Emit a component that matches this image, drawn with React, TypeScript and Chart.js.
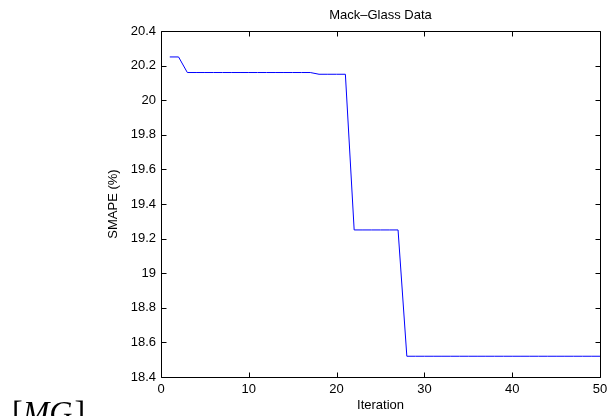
import React, { useEffect, useRef } from "react";
import { Chart, registerables } from "chart.js";

Chart.register(...registerables);

// ---- data ----
const iterations = [
  1, 2, 3, 4, 5, 6, 7, 8, 9, 10,
  11, 12, 13, 14, 15, 16, 17, 18, 19, 20,
  21, 22, 23, 24, 25, 26, 27, 28, 29, 30,
  31, 32, 33, 34, 35, 36, 37, 38, 39, 40,
  41, 42, 43, 44, 45, 46, 47, 48, 49, 50,
];
const smape = [
  20.25, 20.25, 20.16, 20.16, 20.16, 20.16, 20.16, 20.16, 20.16, 20.16,
  20.16, 20.16, 20.16, 20.16, 20.16, 20.16, 20.16, 20.15, 20.15, 20.15,
  20.15, 19.25, 19.25, 19.25, 19.25, 19.25, 19.25, 18.52, 18.52, 18.52,
  18.52, 18.52, 18.52, 18.52, 18.52, 18.52, 18.52, 18.52, 18.52, 18.52,
  18.52, 18.52, 18.52, 18.52, 18.52, 18.52, 18.52, 18.52, 18.52, 18.52,
];
const xTicks = [0, 10, 20, 30, 40, 50];
const yTicks = [18.4, 18.6, 18.8, 19, 19.2, 19.4, 19.6, 19.8, 20, 20.2, 20.4];
const titleText = "Mack\u2013Glass Data";
const xLabel = "Iteration";
const yLabel = "SMAPE (%)";
const cornerOpen = "[";
const cornerItalic = "MG";
const cornerClose = "]";

const SANS = "'Liberation Sans', Arial, Helvetica, sans-serif";
const SERIF = "'Liberation Serif', 'Times New Roman', serif";

const boxPlugin = {
  id: "matlabBox",
  afterDatasetsDraw(chart: any) {
    const { ctx, chartArea } = chart;
    const xs = chart.scales.x;
    const ys = chart.scales.y;
    const L = Math.round(chartArea.left) + 0.5;
    const R = Math.round(chartArea.right) + 0.5;
    const T = Math.round(chartArea.top) + 0.5;
    const B = Math.round(chartArea.bottom) + 0.5;
    const tl = 5;
    ctx.save();
    ctx.strokeStyle = "#000";
    ctx.lineWidth = 1;
    ctx.beginPath();
    ctx.rect(L, T, R - L, B - T);
    for (const v of xTicks) {
      const px = Math.round(xs.getPixelForValue(v)) + 0.5;
      ctx.moveTo(px, B);
      ctx.lineTo(px, B - tl);
      ctx.moveTo(px, T);
      ctx.lineTo(px, T + tl);
    }
    for (const v of yTicks) {
      const py = Math.round(ys.getPixelForValue(v)) + 0.5;
      ctx.moveTo(L, py);
      ctx.lineTo(L + tl, py);
      ctx.moveTo(R, py);
      ctx.lineTo(R - tl, py);
    }
    ctx.stroke();

    // title
    ctx.fillStyle = "#000";
    ctx.font = `13px ${SANS}`;
    ctx.textAlign = "center";
    ctx.textBaseline = "middle";
    ctx.fillText(titleText, (chartArea.left + chartArea.right) / 2, 15);

    // corner label [MG]
    ctx.textAlign = "left";
    ctx.textBaseline = "alphabetic";
    let x = 12;
    const base = 423;
    ctx.font = `32px ${SERIF}`;
    ctx.fillText(cornerOpen, x, base);
    x += ctx.measureText(cornerOpen).width;
    ctx.font = `italic 32px ${SERIF}`;
    ctx.fillText(cornerItalic, x, base);
    x += ctx.measureText(cornerItalic).width + 2;
    ctx.font = `32px ${SERIF}`;
    ctx.fillText(cornerClose, x, base);
    ctx.restore();
  },
};

export default function App() {
  const ref = useRef<HTMLCanvasElement | null>(null);

  useEffect(() => {
    if (!ref.current) return;
    const points = iterations.map((it, i) => ({ x: it, y: smape[i] }));
    const chart = new Chart(ref.current, {
      type: "line",
      data: {
        datasets: [
          {
            data: points,
            borderColor: "#0000ff",
            borderWidth: 1,
            pointRadius: 0,
            tension: 0,
            fill: false,
          },
        ],
      },
      options: {
        animation: false,
        responsive: false,
        maintainAspectRatio: false,
        layout: { padding: { left: 0, right: 8, top: 31, bottom: 0 } },
        font: { family: SANS, size: 13 },
        plugins: {
          legend: { display: false },
          tooltip: { enabled: false },
          title: { display: false },
        },
        scales: {
          x: {
            type: "linear",
            min: 0,
            max: 50,
            grid: { display: false, drawTicks: false },
            border: { display: false },
            afterBuildTicks: (s: any) => {
              s.ticks = xTicks.map((v) => ({ value: v }));
            },
            afterFit: (s: any) => {
              s.height = 39;
              s.paddingLeft = 0;
              s.paddingRight = 0;
            },
            ticks: {
              color: "#000",
              padding: 5,
              maxRotation: 0,
              font: { family: SANS, size: 13 },
              callback: (v: any) => String(v),
            },
            title: {
              display: true,
              text: xLabel,
              color: "#000",
              font: { family: SANS, size: 13 },
              padding: { top: 0, bottom: 2.5 },
            },
          },
          y: {
            type: "linear",
            min: 18.4,
            max: 20.4,
            grid: { display: false, drawTicks: false },
            border: { display: false },
            afterBuildTicks: (s: any) => {
              s.ticks = yTicks.map((v) => ({ value: v }));
            },
            afterFit: (s: any) => {
              s.width = 161;
              s.paddingTop = 0;
              s.paddingBottom = 0;
            },
            ticks: {
              color: "#000",
              padding: 5,
              font: { family: SANS, size: 13 },
              callback: (v: any) => String(Number(Number(v).toFixed(1))),
            },
            title: {
              display: true,
              text: yLabel,
              color: "#000",
              font: { family: SANS, size: 13 },
              padding: { top: 106, bottom: 0 },
            },
          },
        },
      },
      plugins: [boxPlugin],
    });
    return () => chart.destroy();
  }, []);

  return (
    <div style={{ position: "absolute", left: 0, top: 0, width: 608, height: 416, background: "#fff" }}>
      <canvas ref={ref} width={608} height={416} style={{ display: "block" }} />
    </div>
  );
}
